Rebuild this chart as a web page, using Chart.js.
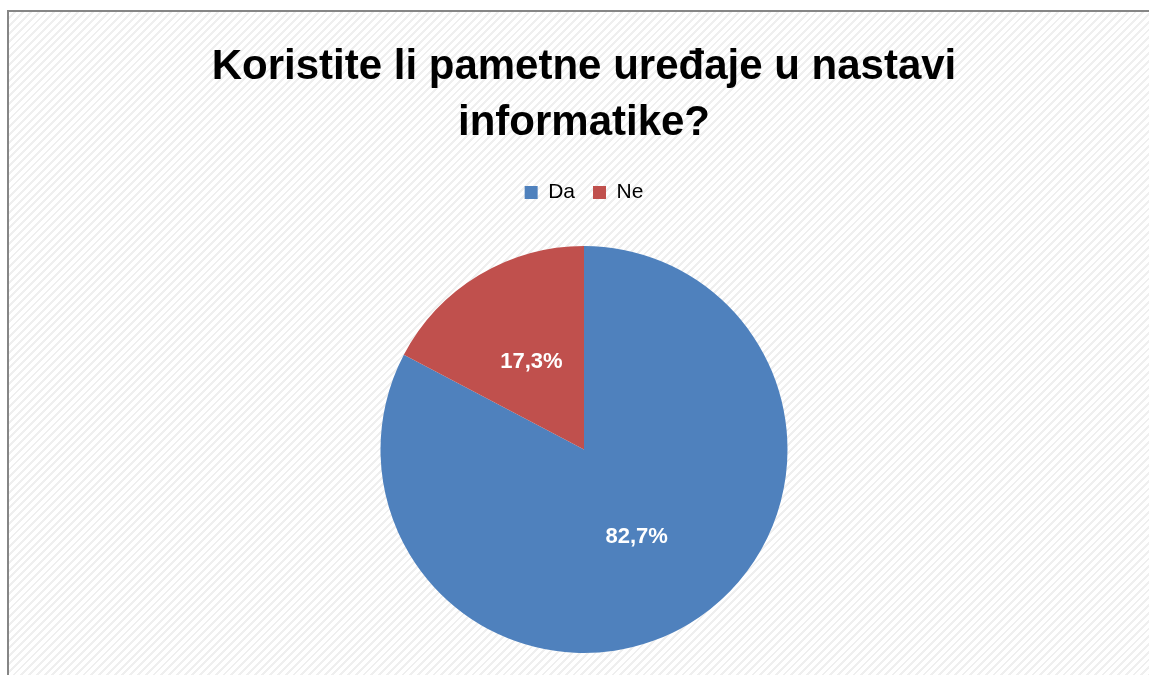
<!DOCTYPE html>
<html>
<head>
<meta charset="utf-8">
<title>Koristite li pametne uređaje u nastavi informatike?</title>
<script src="https://cdn.jsdelivr.net/npm/chart.js@4/dist/chart.umd.min.js"></script>
<style>
  html, body { margin: 0; padding: 0; background: #fff; overflow: hidden; }
  #frame {
    position: absolute; left: 7px; top: 10px; width: 1160px; height: 680px;
    border-left: 2px solid #868686; border-top: 2px solid #868686;
    background: repeating-linear-gradient(135deg, #ffffff 0px, #ffffff 3.5px, #efefef 3.5px, #efefef 5.5px);
  }
  #chart { position: absolute; left: 0; top: 0; }
</style>
</head>
<body>
<div id="frame"></div>
<canvas id="chart" width="1149" height="675"></canvas>
<script>
// data
const titleLines = ['Koristite li pametne uređaje u nastavi', 'informatike?'];
const categories = ['Da', 'Ne'];
const shares     = [82.7, 17.3];

const blue = '#4f81bd';
const red  = '#c0504d';
const fontFam = "'Liberation Sans', Arial, sans-serif";

// push the pie down below the legend, like the Excel layout
const legendGap = {
  id: 'legendGap',
  beforeInit(chart) {
    const lg = chart.legend;
    if (!lg) return;
    const fit = lg.fit;
    lg.fit = function () {
      fit.call(this);
      this.height += 33;
    };
  },
};

// white percent labels inside the slices
const sliceLabels = {
  id: 'sliceLabels',
  afterDatasetsDraw(chart) {
    const { ctx } = chart;
    const meta = chart.getDatasetMeta(0);
    ctx.save();
    ctx.font = 'bold 22px ' + fontFam;
    ctx.fillStyle = '#ffffff';
    ctx.textAlign = 'center';
    ctx.textBaseline = 'middle';
    meta.data.forEach((arc, i) => {
      const p = arc.tooltipPosition();
      const txt = shares[i].toFixed(1).replace('.', ',') + '%';
      ctx.fillText(txt, p.x, p.y);
    });
    ctx.restore();
  },
};

new Chart(document.getElementById('chart'), {
  type: 'pie',
  data: {
    labels: categories,
    datasets: [{
      data: shares,
      backgroundColor: [blue, red],
      borderWidth: 0,
    }],
  },
  options: {
    responsive: false,
    animation: false,
    layout: { padding: { left: 19, bottom: 22 } },
    plugins: {
      title: {
        display: true,
        text: titleLines,
        color: '#000',
        font: { family: fontFam, size: 42, weight: 'bold', lineHeight: 56 / 42 },
        padding: { top: 39, bottom: 13 },
      },
      legend: {
        position: 'top',
        labels: {
          color: '#000',
          boxWidth: 13,
          boxHeight: 13,
          padding: 18,
          font: { family: fontFam, size: 21 },
        },
      },
      tooltip: { enabled: false },
    },
  },
  plugins: [legendGap, sliceLabels],
});
</script>
</body>
</html>
